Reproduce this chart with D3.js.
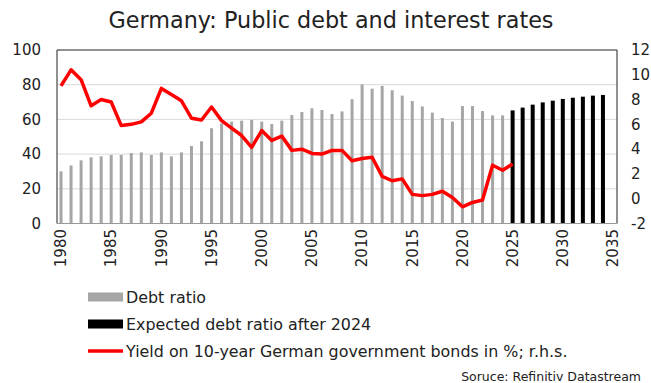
<!DOCTYPE html>
<html>
<head>
<meta charset="utf-8">
<script src="https://cdn.jsdelivr.net/npm/d3@7"></script>
<style>
  html, body { margin: 0; padding: 0; background: #fff; }
  #chart { width: 651px; height: 383px; }
  text { font-family: "DejaVu Sans", sans-serif; fill: #222; }
</style>
</head>
<body>
<div id="chart"></div>
<script>
const years = [1980, 1981, 1982, 1983, 1984, 1985, 1986, 1987, 1988, 1989,
  1990, 1991, 1992, 1993, 1994, 1995, 1996, 1997, 1998, 1999,
  2000, 2001, 2002, 2003, 2004, 2005, 2006, 2007, 2008, 2009,
  2010, 2011, 2012, 2013, 2014, 2015, 2016, 2017, 2018, 2019,
  2020, 2021, 2022, 2023, 2024, 2025, 2026, 2027, 2028, 2029,
  2030, 2031, 2032, 2033, 2034, 2035];

// debt ratio, % of GDP, 1980-2024
const debtRatio = [30, 33.5, 36.4, 38.1, 38.7, 39.5, 39.5, 40.6, 41, 39.5,
  41, 38.7, 41, 44.7, 47.4, 54.9, 57.7, 58.7, 59.3, 59.7,
  58.7, 57.3, 59.3, 62.5, 64.3, 66.4, 65.4, 63.1, 64.6, 71.6,
  80.2, 77.7, 79.3, 76.8, 73.7, 70.6, 67.5, 63.9, 60.8, 58.7,
  67.7, 67.7, 64.8, 62.3, 62.3];

// expected debt ratio, 2025-2034
const expectedRatio = [65.2, 66.8, 68.5, 69.8, 70.8, 71.8, 72.5, 73.1, 73.7, 74.1];

// 10y Bund yield, %, 1980-2025
const bondYield = [9.1, 10.4, 9.6, 7.5, 8.0, 7.8, 5.9, 6.0, 6.2, 6.9,
  8.9, 8.4, 7.9, 6.5, 6.35, 7.4, 6.3, 5.7, 5.1, 4.15,
  5.5, 4.7, 5.05, 3.9, 4.0, 3.65, 3.6, 3.9, 3.9, 3.07,
  3.25, 3.35, 1.8, 1.45, 1.6, 0.35, 0.25, 0.35, 0.6, 0.1,
  -0.65, -0.3, -0.1, 2.7, 2.3, 2.8];

const xTicks = [1980, 1985, 1990, 1995, 2000, 2005, 2010, 2015, 2020, 2025, 2030, 2035];
const leftTicks = [0, 20, 40, 60, 80, 100];
const rightTicks = [-2, 0, 2, 4, 6, 8, 10, 12];

const legendItems = [
  { label: "Debt ratio", type: "bar", color: "#a6a6a6" },
  { label: "Expected debt ratio after 2024", type: "bar", color: "#000" },
  { label: "Yield on 10-year German government bonds in %; r.h.s.", type: "line", color: "#ff0000" }
];

const W = 651, H = 383;
const plot = { left: 57, right: 617, top: 50, bottom: 223.5 };

const svg = d3.select("#chart").append("svg")
  .attr("width", W).attr("height", H);

const x = d3.scaleBand().domain(years).range([56, 618]);
const yL = d3.scaleLinear().domain([0, 100]).range([plot.bottom, plot.top]);
const yR = d3.scaleLinear().domain([-2, 12]).range([plot.bottom, plot.top]);
const cx = (yr) => x(yr) + x.bandwidth() / 2;

svg.append("text")
  .attr("x", 331).attr("y", 28)
  .attr("text-anchor", "middle")
  .attr("font-size", 22.3)
  .text("Germany: Public debt and interest rates");

// gridlines
svg.append("g")
  .selectAll("line")
  .data(leftTicks.filter((d) => d > 0 && d < 100))
  .join("line")
  .attr("x1", plot.left).attr("x2", plot.right)
  .attr("y1", (d) => yL(d)).attr("y2", (d) => yL(d))
  .attr("stroke", "#d9d9d9").attr("stroke-width", 1);

const debtData = debtRatio.map((v, i) => ({ year: years[i], value: v }));
const expData = expectedRatio.map((v, i) => ({ year: years[45 + i], value: v }));

svg.append("g").selectAll("rect")
  .data(debtData)
  .join("rect")
  .attr("x", (d) => cx(d.year) - 1.5)
  .attr("width", 3)
  .attr("y", (d) => yL(d.value))
  .attr("height", (d) => yL(0) - yL(d.value))
  .attr("fill", "#a6a6a6");

svg.append("g").selectAll("rect")
  .data(expData)
  .join("rect")
  .attr("x", (d) => cx(d.year) - 2)
  .attr("width", 4)
  .attr("y", (d) => yL(d.value))
  .attr("height", (d) => yL(0) - yL(d.value))
  .attr("fill", "#000");

const yieldData = bondYield.map((v, i) => ({ year: years[i], value: v }));
svg.append("path")
  .datum(yieldData)
  .attr("fill", "none")
  .attr("stroke", "#ff0000")
  .attr("stroke-width", 3.5)
  .attr("stroke-linejoin", "round")
  .attr("d", d3.line().x((d) => cx(d.year)).y((d) => yR(d.value)));

// frame
svg.append("path")
  .attr("d", `M${plot.left},${plot.bottom}V${plot.top}H${plot.right}V${plot.bottom}`)
  .attr("fill", "none").attr("stroke", "#222").attr("stroke-width", 1);
svg.append("line")
  .attr("x1", plot.left).attr("x2", plot.right)
  .attr("y1", plot.bottom).attr("y2", plot.bottom)
  .attr("stroke", "#999").attr("stroke-width", 1);

// left axis labels
svg.append("g").selectAll("text")
  .data(leftTicks)
  .join("text")
  .attr("x", 41).attr("y", (d) => yL(d))
  .attr("dy", "0.35em")
  .attr("text-anchor", "end")
  .attr("font-size", 15)
  .text((d) => d);

// right axis labels
svg.append("g").selectAll("text")
  .data(rightTicks)
  .join("text")
  .attr("x", 631).attr("y", (d) => yR(d))
  .attr("dy", "0.35em")
  .attr("font-size", 15)
  .text((d) => d);

// x labels
svg.append("g").selectAll("text")
  .data(xTicks)
  .join("text")
  .attr("transform", (d) => `translate(${cx(d)},229) rotate(-90)`)
  .attr("dy", "0.35em")
  .attr("text-anchor", "end")
  .attr("font-size", 15)
  .text((d) => d);

// legend
const lg = svg.append("g").selectAll("g")
  .data(legendItems)
  .join("g")
  .attr("transform", (d, i) => `translate(88,${297 + i * 27})`);
lg.filter((d) => d.type === "bar").append("rect")
  .attr("x", 0).attr("y", -4.5).attr("width", 35).attr("height", 9)
  .attr("fill", (d) => d.color);
lg.filter((d) => d.type === "line").append("line")
  .attr("x1", 0).attr("x2", 35).attr("y1", 0).attr("y2", 0)
  .attr("stroke", (d) => d.color).attr("stroke-width", 3.5);
lg.append("text")
  .attr("x", 38).attr("dy", "0.35em")
  .attr("font-size", 15.9)
  .text((d) => d.label);

svg.append("text")
  .attr("x", 641).attr("y", 381)
  .attr("text-anchor", "end")
  .attr("font-size", 12.5)
  .attr("fill", "#333")
  .text("Soruce: Refinitiv Datastream");
</script>
</body>
</html>
